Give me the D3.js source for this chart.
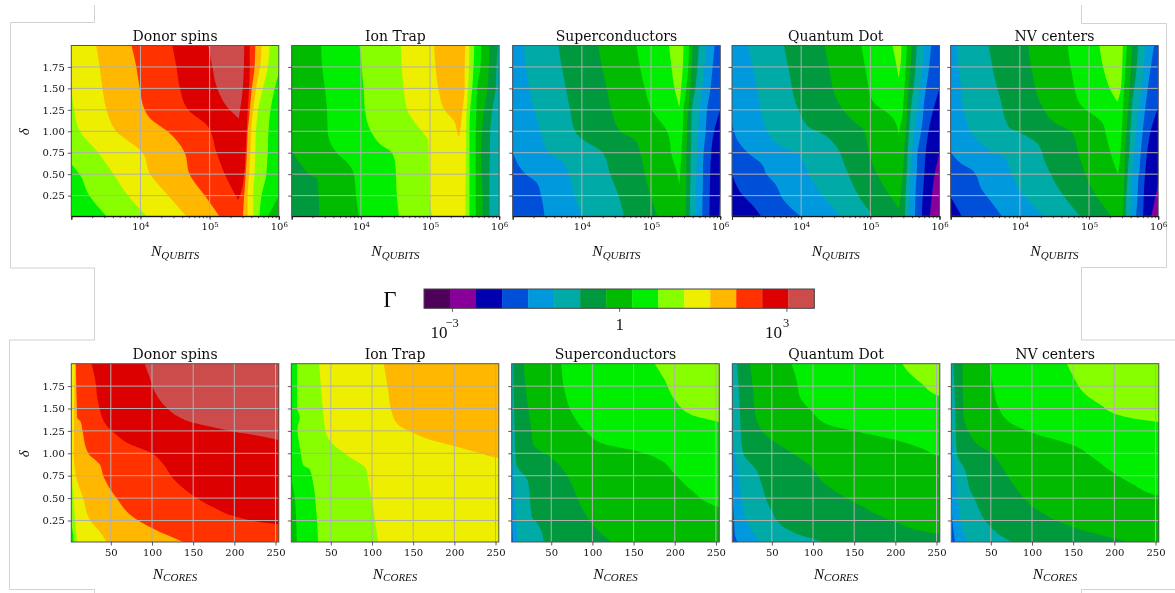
<!DOCTYPE html>
<html>
<head>
<meta charset="utf-8">
<script src="https://cdn.jsdelivr.net/npm/d3@7"></script>
<style>
html, body { margin: 0; padding: 0; background: #fff; }
svg { display: block; }
</style>
</head>
<body>
<script>
// colour levels of Gamma, low to high
var levelColors = ["#50005a", "#880099", "#0000b0", "#0050d8", "#0099dd", "#00aaa6", "#00993c", "#00bb00",
    "#00ee00", "#88ff00", "#eeee00", "#ffb700", "#ff3300", "#dd0000", "#cc4c4c"];

var platforms = ["Donor spins", "Ion Trap", "Superconductors", "Quantum Dot", "NV centers"];
var deltaTicks = [0.25, 0.5, 0.75, 1, 1.25, 1.5, 1.75];
var coreTicks = [50, 100, 150, 200, 250];
var gammaTicks = [1e-3, 1, 1e3];

// every band: level, then rows of [delta, left edge, right edge]
// qubit panels hold log10(N_QUBITS), bands are painted in order so later ones sit on top
var donorQubitBase = 7;
var donorQubitBands = [
    [8, [[2,2.9,6.3],[1,2.9,6.2],[0.25,2.9,6.0],[0.01,2.9,5.84]]],
    [9, [[2,2.9,6.06],[1.75,2.9,6.02],[1.5,2.9,5.94],[1.25,2.9,5.88],[1,2.9,5.85],[0.75,2.9,5.84],[0.62,3.0,5.83],[0.5,3.12,5.82],[0.25,3.26,5.75],[0.01,3.51,5.72]]],
    [10, [[2,2.93,5.87],[1.75,2.96,5.84],[1.5,3.0,5.77],[1.25,3.04,5.70],[1,3.125,5.67],[0.75,3.39,5.66],[0.5,3.61,5.65],[0.25,3.82,5.63],[0.01,4.09,5.63]]],
    [11, [[2,3.36,5.75],[1.75,3.41,5.73],[1.5,3.45,5.67],[1.25,3.51,5.63],[1,3.65,5.60],[0.75,4.03,5.59],[0.5,4.14,5.57],[0.25,4.40,5.55],[0.01,4.66,5.55]]],
    [12, [[2,3.87,5.66],[1.75,3.94,5.65],[1.5,3.99,5.61],[1.25,4.06,5.58],[1.15,4.14,5.57],[1,4.39,5.55],[0.75,4.64,5.54],[0.5,4.71,5.52],[0.25,4.93,5.50],[0.01,5.14,5.48]]],
    [13, [[2,4.46,5.58],[1.75,4.52,5.58],[1.5,4.57,5.57],[1.25,4.69,5.55],[1.05,4.98,5.54],[0.75,5.10,5.52],[0.5,5.22,5.50],[0.25,5.375,5.44],[0.2,5.41,5.41]]],
    [14, [[2,4.98,5.50],[1.75,5.04,5.495],[1.5,5.11,5.48],[1.25,5.29,5.44],[1.15,5.42,5.42]]]
];

var ionQubitBase = 5;
var ionQubitBands = [
    [6, [[2,2.9,5.98],[1.75,2.9,5.96],[1.5,2.9,5.95],[1.25,2.9,5.90],[1,2.9,5.87],[0.75,2.9,5.865],[0.5,2.9,5.86],[0.01,2.9,5.86]]],
    [7, [[2,2.9,5.86],[1.75,2.9,5.85],[1.5,2.9,5.83],[1.25,2.9,5.78],[1,2.9,5.75],[0.78,3.0,5.74],[0.6,3.145,5.745],[0.48,3.29,5.75],[0.45,3.37,5.75],[0.25,3.39,5.76],[0.01,3.40,5.76]]],
    [8, [[2,3.425,5.74],[1.75,3.44,5.73],[1.5,3.48,5.68],[1.25,3.51,5.67],[1,3.52,5.66],[0.75,3.65,5.66],[0.62,3.82,5.66],[0.5,3.90,5.66],[0.25,3.93,5.66],[0.01,3.97,5.66]]],
    [9, [[2,3.98,5.64],[1.5,4.04,5.61],[1.25,4.06,5.58],[1,4.145,5.57],[0.85,4.28,5.57],[0.75,4.45,5.57],[0.6,4.50,5.57],[0.25,4.52,5.57],[0.01,4.55,5.57]]],
    [10, [[2,4.575,5.57],[1.5,4.62,5.55],[1.25,4.67,5.53],[1,4.88,5.52],[0.9,4.97,5.52],[0.75,4.98,5.52],[0.25,4.99,5.51],[0.01,5.03,5.51]]],
    [11, [[2,5.06,5.51],[1.75,5.08,5.50],[1.5,5.12,5.50],[1.25,5.21,5.47],[1.1,5.36,5.45],[1,5.39,5.435],[0.93,5.415,5.415]]]
];

var superQubitBase = 1;
var superQubitBands = [
    [2, [[2,2.9,6.1],[0.5,2.9,6.03],[0.25,2.9,6.0],[0.01,2.9,5.98]]],
    [3, [[2,2.9,6.2],[1.25,2.9,6.0],[1,2.9,5.91],[0.75,2.9,5.87],[0.5,2.9,5.855],[0.01,2.9,5.845]]],
    [4, [[2,2.9,5.92],[1.75,2.9,5.89],[1.5,2.9,5.86],[1.25,2.9,5.81],[1,2.9,5.79],[0.75,3.0,5.76],[0.5,3.19,5.75],[0.4,3.35,5.75],[0.25,3.41,5.745],[0.01,3.46,5.74]]],
    [5, [[2,3.16,5.80],[1.75,3.19,5.77],[1.5,3.24,5.74],[1.25,3.31,5.70],[1,3.40,5.68],[0.75,3.52,5.67],[0.65,3.71,5.665],[0.5,3.81,5.65],[0.25,3.89,5.65],[0.01,4.0,5.64]]],
    [6, [[2,3.66,5.69],[1.75,3.71,5.67],[1.5,3.77,5.64],[1.25,3.83,5.59],[1,3.90,5.58],[0.9,4.02,5.58],[0.75,4.30,5.575],[0.5,4.41,5.57],[0.25,4.53,5.565],[0.01,4.61,5.56]]],
    [7, [[2,4.24,5.60],[1.75,4.29,5.59],[1.5,4.36,5.57],[1.25,4.425,5.54],[1,4.555,5.52],[0.9,4.77,5.52],[0.75,4.845,5.51],[0.5,4.91,5.51],[0.25,4.99,5.505],[0.01,5.09,5.50]]],
    [8, [[2,4.79,5.55],[1.75,4.84,5.54],[1.5,4.91,5.51],[1.25,5.01,5.47],[1,5.23,5.46],[0.9,5.27,5.45],[0.75,5.29,5.44],[0.5,5.38,5.42],[0.38,5.41,5.41]]],
    [9, [[2,5.26,5.47],[1.75,5.295,5.46],[1.5,5.34,5.435],[1.28,5.41,5.41]]]
];

var dotQubitBase = 1;
var dotQubitBands = [
    [2, [[2,2.9,6.2],[0.75,2.9,6.0],[0.5,2.9,5.93],[0.25,2.9,5.89],[0.01,2.9,5.86]]],
    [3, [[2,2.9,6.2],[1.5,2.9,6.0],[1.25,2.9,5.91],[1,2.9,5.84],[0.75,2.9,5.80],[0.5,3.0,5.78],[0.27,3.14,5.76],[0.15,3.285,5.75],[0.01,3.42,5.745]]],
    [4, [[2,2.9,5.88],[1.75,2.9,5.85],[1.36,2.9,5.78],[1.09,3.0,5.75],[0.88,3.09,5.71],[0.74,3.24,5.68],[0.62,3.43,5.675],[0.5,3.50,5.67],[0.39,3.62,5.66],[0.2,3.745,5.65],[0.01,3.99,5.645]]],
    [5, [[2,3.23,5.78],[1.72,3.31,5.75],[1.4,3.38,5.70],[0.97,3.53,5.63],[0.82,3.72,5.61],[0.74,3.96,5.60],[0.58,4.06,5.585],[0.31,4.25,5.57],[0.01,4.57,5.55]]],
    [6, [[2,3.75,5.67],[1.72,3.82,5.65],[1.2,3.99,5.58],[1.05,4.11,5.565],[0.95,4.35,5.555],[0.83,4.50,5.545],[0.58,4.64,5.53],[0.24,4.835,5.51],[0.01,5.04,5.50]]],
    [7, [[2,4.34,5.60],[1.75,4.40,5.58],[1.36,4.52,5.54],[1.13,4.74,5.525],[1.01,4.91,5.51],[0.74,4.98,5.49],[0.39,5.17,5.46],[0.1,5.415,5.415]]],
    [8, [[2,4.87,5.53],[1.72,4.93,5.51],[1.36,5.03,5.48],[1.16,5.32,5.46],[1.09,5.37,5.44],[0.95,5.41,5.41]]],
    [9, [[2,5.32,5.45],[1.8,5.37,5.44],[1.62,5.41,5.41]]]
];

var nvQubitBase = 1;
var nvQubitBands = [
    [2, [[2,2.9,6.2],[0.39,2.9,6.0],[0.2,2.9,5.95],[0.01,2.9,5.90]]],
    [3, [[2,2.9,6.2],[1.25,2.9,5.985],[1,2.9,5.89],[0.75,2.9,5.84],[0.5,2.9,5.81],[0.24,3.0,5.79],[0.08,3.11,5.785],[0.01,3.16,5.78]]],
    [4, [[2,2.9,5.94],[1.68,2.9,5.88],[1.25,2.9,5.81],[0.86,2.95,5.76],[0.76,3.0,5.75],[0.62,3.16,5.735],[0.55,3.31,5.73],[0.51,3.35,5.72],[0.32,3.45,5.705],[0.16,3.60,5.695],[0.01,3.74,5.68]]],
    [5, [[2,3.09,5.82],[1.76,3.11,5.79],[1.65,3.13,5.78],[1.17,3.21,5.70],[0.9,3.38,5.67],[0.74,3.65,5.65],[0.7,3.77,5.645],[0.55,3.86,5.63],[0.28,4.03,5.61],[0.01,4.35,5.60]]],
    [6, [[2,3.55,5.71],[1.68,3.62,5.68],[1.37,3.72,5.63],[1.05,3.84,5.60],[0.98,4.01,5.595],[0.86,4.25,5.59],[0.63,4.37,5.57],[0.32,4.57,5.545],[0.01,4.87,5.53]]],
    [7, [[2,4.12,5.62],[1.68,4.18,5.60],[1.29,4.325,5.57],[1.09,4.52,5.55],[0.98,4.76,5.54],[0.7,4.86,5.52],[0.32,5.05,5.505],[0.01,5.32,5.49]]],
    [8, [[2,4.69,5.55],[1.68,4.75,5.52],[1.33,4.86,5.495],[1.09,5.20,5.48],[0.94,5.25,5.47],[0.66,5.345,5.445],[0.5,5.42,5.42]]],
    [9, [[2,5.15,5.49],[1.76,5.20,5.48],[1.5,5.30,5.46],[1.34,5.41,5.41]]]
];

// core panels: rows of [delta, left edge in N_CORES], the band runs on past the right side
var donorCoreBase = 8;
var donorCoreBands = [
    [9, [[2,0],[0.25,1.8],[0.1,4.2],[0.01,5]]],
    [10, [[2,0],[0.85,2],[0.5,4.6],[0.25,6.7],[0.01,9.1]]],
    [11, [[2,6.3],[1,5],[0.75,7.5],[0.5,16.4],[0.25,25],[0.1,38.7],[0.01,44.7]]],
    [12, [[2,7.5],[1.75,8],[1.5,8.7],[1.4,9],[1.35,13.5],[1.25,15.6],[1,22.5],[0.875,36.6],[0.75,40.7],[0.5,56.9],[0.29,77],[0.09,117.6],[0.01,137.9]]],
    [13, [[2,26.5],[1.84,30.6],[1.57,34.6],[1.31,44.7],[1.22,54.9],[1.12,69],[1,99.8],[0.88,113.5],[0.72,125.6],[0.53,149.8],[0.38,178],[0.3,198.6],[0.21,251],[0.2,262]]],
    [14, [[2,91.3],[1.84,97.4],[1.65,105.5],[1.51,117.6],[1.4,133.8],[1.34,150],[1.29,174.3],[1.24,199.9],[1.2,227],[1.15,253],[1.13,262]]]
];

var ionCoreBase = 7;
var ionCoreBands = [
    [8, [[2,0],[0.75,2.2],[0.5,6.3],[0.01,8.7]]],
    [9, [[2,9.1],[1.5,9.1],[1.4,12.4],[1.29,9.5],[1,13.6],[0.87,16.4],[0.82,24.5],[0.66,28.6],[0.33,32.6],[0.01,34.6]]],
    [10, [[2,35.8],[1.75,37.9],[1.47,40.7],[1.21,44.7],[1.1,52.8],[0.97,71],[0.82,93.3],[0.7,95.3],[0.39,101.4],[0.01,107.4]]],
    [11, [[2,114.3],[1.7,119.6],[1.47,123.6],[1.32,131.7],[1.23,149.9],[1.16,168],[1.08,200.5],[1.01,228.8],[0.95,253.9],[0.94,262]]]
];

var superCoreBase = 3;
var superCoreBands = [
    [4, [[2,1],[1,1],[0.3,2],[0.01,3.4]]],
    [5, [[2,1],[0.9,1],[0.87,3.4],[0.62,5.4],[0.25,7.5],[0.01,9.5]]],
    [6, [[2,4.2],[1.33,5.4],[0.88,7.5],[0.69,21.7],[0.5,24],[0.29,26.5],[0.21,33.8],[0.01,41]]],
    [7, [[2,16.4],[1.67,19.6],[1.27,25.7],[1.1,27.7],[0.95,50],[0.82,64.2],[0.62,76.3],[0.4,86.5],[0.14,106.7],[0.01,122.9]]],
    [8, [[2,62.2],[1.7,66.2],[1.43,76.3],[1.22,94.6],[1.1,114.8],[1.03,151.3],[0.94,179.6],[0.77,199.9],[0.59,220],[0.4,253.7],[0.39,262]]],
    [9, [[2,175.6],[1.82,187.7],[1.6,199.9],[1.43,220],[1.35,253.7],[1.33,262]]]
];

var dotCoreBase = 3;
var dotCoreBands = [
    [4, [[2,1],[0.62,1.8],[0.25,4.2],[0.1,5],[0.01,8.3]]],
    [5, [[2,1],[1.4,1.8],[1.03,5],[0.77,9],[0.5,13.1],[0.29,17.2],[0.14,25.3],[0.01,35.4]]],
    [6, [[2,7.9],[1.5,11.1],[1.25,12.3],[1,15.2],[0.81,31.4],[0.66,37.4],[0.48,43.5],[0.36,49.6],[0.17,65.8],[0.07,90.1],[0.01,112.4]]],
    [7, [[2,23.3],[1.7,27.3],[1.47,29.3],[1.29,35.4],[1.18,45.5],[1.01,73.9],[0.88,94.1],[0.66,114.4],[0.43,154.9],[0.25,195.4],[0.1,253.3],[0.09,262]]],
    [8, [[2,73.9],[1.82,80],[1.63,84],[1.47,98.2],[1.32,118.4],[1.25,150],[1.15,199.4],[1.04,235.9],[0.97,253.3],[0.96,262]]],
    [9, [[2,208.4],[1.89,217.7],[1.78,231.8],[1.64,253.3],[1.62,262]]]
];

var nvCoreBase = 3;
var nvCoreBands = [
    [4, [[2,1],[0.5,2.2],[0.17,4.2],[0.01,6.6]]],
    [5, [[2,1],[1.25,2.2],[1,4.6],[0.77,6.6],[0.44,10.7],[0.17,14.7],[0.01,20.8]]],
    [6, [[2,4.6],[1.55,6.6],[1,8.6],[0.81,18.8],[0.59,24.9],[0.48,30.9],[0.25,43.1],[0.1,59.3],[0.01,75.5]]],
    [7, [[2,15.5],[1.43,16.7],[1.21,24.9],[1.09,35],[1.01,49.2],[0.85,63.4],[0.62,79.6],[0.36,108],[0.18,148.5],[0.01,217.5]]],
    [8, [[2,48.4],[1.73,53.2],[1.51,59.3],[1.33,75.5],[1.23,99.9],[1.09,150.2],[0.96,172.9],[0.78,199.2],[0.66,221.5],[0.53,253.2],[0.52,262]]],
    [9, [[2,142.5],[1.85,150.6],[1.66,164.8],[1.53,185],[1.44,201.2],[1.38,229.6],[1.35,253.2],[1.34,262]]]
];

var qubitBands = [donorQubitBands, ionQubitBands, superQubitBands, dotQubitBands, nvQubitBands];
var qubitBases = [donorQubitBase, ionQubitBase, superQubitBase, dotQubitBase, nvQubitBase];
var coreBands = [donorCoreBands, ionCoreBands, superCoreBands, dotCoreBands, nvCoreBands];
var coreBases = [donorCoreBase, ionCoreBase, superCoreBase, dotCoreBase, nvCoreBase];

var width = 1175, height = 593;
var serif = "'DejaVu Serif', serif";
var mathSerif = "'Liberation Serif', serif";

var svg = d3.select("body").append("svg")
    .attr("width", width)
    .attr("height", height);

// the source is a slightly soft upscaled image
svg.append("filter").attr("id", "soft")
    .attr("filterUnits", "userSpaceOnUse")
    .attr("x", 0).attr("y", 0).attr("width", width).attr("height", height)
    .append("feGaussianBlur").attr("stdDeviation", 0.4);

var root = svg.append("g").attr("filter", "url(#soft)");
root.append("rect").attr("width", width).attr("height", height).attr("fill", "#fff");

// pale cut-out lines behind the figure
var cutLines = [
    [[94.5,5],[94.5,22.5],[10.5,22.5],[10.5,268],[94.5,268],[94.5,340],[9.5,340],[9.5,589.5],[94.5,589.5],[94.5,593]],
    [[1081.5,5],[1081.5,23.5],[1166.5,23.5],[1166.5,267.5],[1081.5,267.5],[1081.5,340],[1175,340]],
    [[1081.5,593],[1081.5,589.5],[1175,589.5]]
];
root.selectAll(".cut").data(cutLines).enter().append("path")
    .attr("class", "cut")
    .attr("d", d3.line())
    .attr("fill", "none")
    .attr("stroke", "#d2d2d2")
    .attr("stroke-width", 1);

var topLefts = [71.3, 291.7, 512.7, 732, 950.7];
var bottomLefts = [71.3, 291.3, 511.7, 732.3, 951.3];
var panelWidth = 207.5;

var bandArea = d3.area()
    .y(function(d){ return d.y; })
    .x0(function(d){ return d.x0; })
    .x1(function(d){ return d.x1; })
    .curve(d3.curveMonotoneY);

function drawPanel(opts) {
    var g = root.append("g").attr("transform", "translate(" + opts.left + "," + opts.top + ")");
    var w = panelWidth, h = opts.height;
    var x = opts.x.copy().range([0, w]);
    var y = d3.scaleLinear().domain([0.01, 2]).range([h, 0]);
    var clipId = "clip" + opts.id;

    g.append("clipPath").attr("id", clipId)
        .append("rect").attr("width", w).attr("height", h);

    var plot = g.append("g").attr("clip-path", "url(#" + clipId + ")");

    plot.append("rect")
        .attr("width", w).attr("height", h)
        .attr("fill", levelColors[opts.base]);

    plot.selectAll(".band")
        .data(opts.bands)
        .enter()
        .append("path")
        .attr("class", "band")
        .attr("fill", function(d){ return levelColors[d[0]]; })
        .attr("d", function(d){
            return bandArea(d[1].map(function(r){
                return {
                    y: y(r[0]),
                    x0: opts.toX(x, r[1]),
                    x1: r.length > 2 ? opts.toX(x, r[2]) : w + 20
                };
            }));
        });

    // grid goes over the filled bands
    plot.selectAll(".gridY").data(deltaTicks).enter().append("line")
        .attr("x1", 0).attr("x2", w)
        .attr("y1", function(d){ return y(d); })
        .attr("y2", function(d){ return y(d); })
        .attr("stroke", "#b0b0b0").attr("stroke-width", 1);
    plot.selectAll(".gridX").data(opts.gridX).enter().append("line")
        .attr("y1", 0).attr("y2", h)
        .attr("x1", function(d){ return x(d); })
        .attr("x2", function(d){ return x(d); })
        .attr("stroke", "#b0b0b0").attr("stroke-width", 1);

    g.append("rect")
        .attr("width", w).attr("height", h)
        .attr("fill", "none").attr("stroke", "#555").attr("stroke-width", 1);

    // axes
    var yAxis = d3.axisLeft(y).tickValues(deltaTicks).tickSize(3.5).tickPadding(3)
        .tickFormat(opts.first ? d3.format(".2f") : "");
    var yG = g.append("g").call(yAxis);
    styleAxis(yG);

    var xG = g.append("g").attr("transform", "translate(0," + h + ")");
    opts.drawX(xG, x);
    styleAxis(xG);

    g.append("text")
        .attr("x", w / 2).attr("y", -4.7)
        .attr("text-anchor", "middle")
        .attr("font-family", serif).attr("font-size", 14).attr("fill", "#111")
        .text(opts.title);

    var xLabel = g.append("text")
        .attr("x", w / 2).attr("y", h + opts.labelGap)
        .attr("text-anchor", "middle")
        .attr("font-family", mathSerif).attr("font-style", "italic")
        .attr("font-size", 15.5).attr("fill", "#111");
    xLabel.append("tspan").text("N");
    xLabel.append("tspan").attr("dy", 2.5).attr("font-size", 11).text(opts.sub);

    if (opts.first) {
        g.append("text")
            .attr("transform", "translate(-42," + (h / 2 + 1) + ") rotate(-90)")
            .attr("text-anchor", "middle")
            .attr("font-family", mathSerif).attr("font-style", "italic")
            .attr("font-size", 15).attr("fill", "#111")
            .text("δ");
    }
}

function styleAxis(sel) {
    sel.select(".domain").remove();
    sel.selectAll("line").attr("stroke", "#333").attr("stroke-width", 0.8);
    sel.selectAll("text")
        .attr("font-family", serif).attr("font-size", 10).attr("fill", "#111");
}

function drawQubitAxis(sel, x) {
    sel.call(d3.axisBottom(x).tickSize(2).tickFormat(""));
    var major = sel.append("g").call(d3.axisBottom(x)
        .tickValues([1e3, 1e4, 1e5, 1e6]).tickSize(3.5).tickPadding(3)
        .tickFormat(function(d){ return d === 1e3 ? "" : "10"; }));
    major.selectAll("text").each(function(d){
        if (d === 1e3) return;
        d3.select(this).append("tspan")
            .attr("dy", "-0.45em").attr("font-size", 7)
            .text(Math.round(Math.log10(d)));
    });
}

function drawCoreAxis(sel, x) {
    sel.call(d3.axisBottom(x).tickValues(coreTicks).tickSize(3.5).tickPadding(3));
}

var xQubits = d3.scaleLog().domain([1e3, 1e6]);
var xCores = d3.scaleLinear().domain([2, 254]);

platforms.forEach(function(name, i){
    drawPanel({
        id: "q" + i, title: name, first: i === 0,
        left: topLefts[i], top: 45.5, height: 170.7,
        x: xQubits, bands: qubitBands[i], base: qubitBases[i],
        toX: function(x, v){ return x(Math.pow(10, v)); },
        gridX: [1e4, 1e5],
        drawX: drawQubitAxis, sub: "QUBITS", labelGap: 40
    });
    drawPanel({
        id: "c" + i, title: name, first: i === 0,
        left: bottomLefts[i], top: 363.7, height: 178.3,
        x: xCores, bands: coreBands[i], base: coreBases[i],
        toX: function(x, v){ return x(v); },
        gridX: coreTicks,
        drawX: drawCoreAxis, sub: "CORES", labelGap: 37
    });
});

// colour bar
var barLeft = 424, barRight = 814.3, barTop = 289, barHeight = 19.3;
var barBand = d3.scaleBand().domain(d3.range(levelColors.length)).range([barLeft, barRight]);
var barScale = d3.scaleLog().domain([Math.pow(10, -3.5), Math.pow(10, 3.5)]).range([barLeft, barRight]);

root.selectAll(".swatch")
    .data(levelColors)
    .enter()
    .append("rect")
    .attr("class", "swatch")
    .attr("x", function(d, i){ return barBand(i); })
    .attr("y", barTop)
    .attr("width", barBand.bandwidth() + 0.3)
    .attr("height", barHeight)
    .attr("fill", function(d){ return d; });

root.append("rect")
    .attr("x", barLeft).attr("y", barTop)
    .attr("width", barRight - barLeft).attr("height", barHeight)
    .attr("fill", "none").attr("stroke", "#444").attr("stroke-width", 1);

var barAxis = root.append("g")
    .attr("transform", "translate(0," + (barTop + barHeight) + ")")
    .call(d3.axisBottom(barScale).tickValues(gammaTicks).tickSize(3.5).tickFormat(""));
barAxis.select(".domain").remove();
barAxis.selectAll("line").attr("stroke", "#333").attr("stroke-width", 0.8);

barAxis.selectAll(".tick").append("text")
    .attr("font-family", mathSerif).attr("font-size", 17).attr("fill", "#111")
    .attr("x", function(d){ return d === 1 ? 0 : -22; })
    .attr("y", function(d){ return d === 1 ? 22 : 29.5; })
    .attr("text-anchor", function(d){ return d === 1 ? "middle" : "start"; })
    .each(function(d){
        var t = d3.select(this);
        if (d === 1) { t.text("1"); return; }
        t.text("10");
        t.append("tspan").attr("dy", -11).attr("dx", d < 1 ? -2 : 1).attr("font-size", 12.5)
            .text(d < 1 ? "−3" : "3");
    });

root.append("text")
    .attr("x", 390).attr("y", 306.5)
    .attr("text-anchor", "middle")
    .attr("font-family", mathSerif).attr("font-size", 23).attr("fill", "#111")
    .text("Γ");
</script>
</body>
</html>
